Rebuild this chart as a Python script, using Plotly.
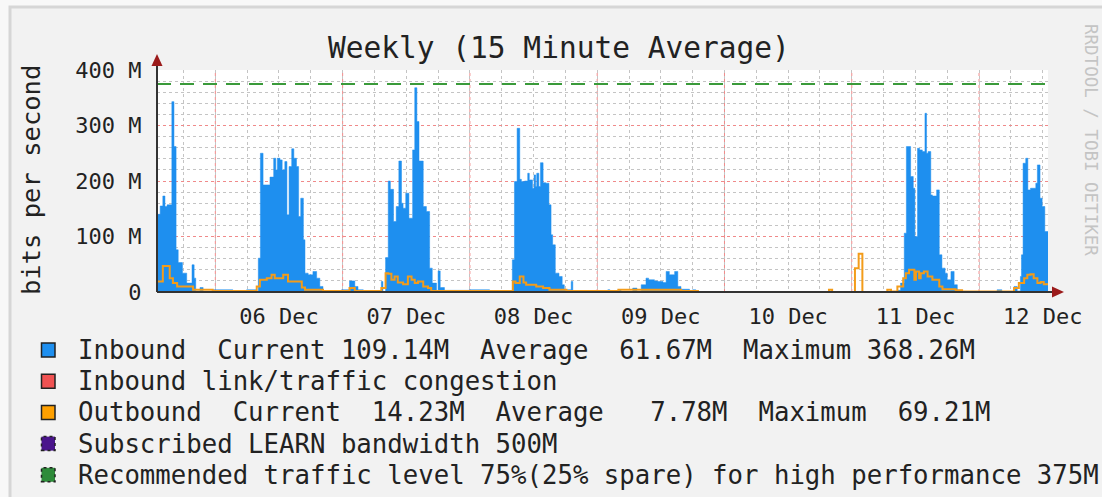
import plotly.graph_objects as go
import pandas as pd

# ---------------- data ----------------
start = pd.Timestamp("2016-12-05 13:00")
span_hours = 168

# Inbound (Mbit/s), step values starting at each hour offset
inbound_hours = [0.0, 0.6, 1.1, 1.5, 1.9, 2.8, 3.2, 3.6, 4.0, 4.8, 5.6, 6.6, 7.0, 7.3, 8.1, 8.7, 10.5, 14.3, 16.9, 18.8,
                 19.1, 19.5, 20.0, 21.3, 22.0, 22.4, 22.7, 23.2, 23.6, 24.1, 24.5, 24.9, 25.4, 25.8, 26.3, 26.7, 27.1,
                 27.6, 27.9, 28.5, 29.4, 30.1, 30.7, 31.3, 34.8, 36.3, 37.3, 37.9, 38.9,
                 42.3, 42.6, 43.1, 43.6, 44.0, 44.6, 45.1, 45.6, 46.1, 46.4, 46.9, 47.5, 48.2, 48.6, 49.0, 49.4, 50.2,
                 50.8, 51.4, 51.9, 52.7, 53.0, 53.4, 54.2, 58.9, 62.7,
                 67.0, 67.4, 67.9, 68.4, 68.7, 69.3, 69.9, 70.2, 70.8, 71.1, 71.4, 71.6, 72.0, 72.3, 72.8, 73.3, 73.9,
                 74.3, 74.6, 75.1, 75.8, 76.4, 76.8, 78.1, 78.4,
                 85.0, 85.4, 86.9, 87.5, 89.7, 90.5, 91.3, 92.2, 92.7, 93.8, 94.4, 95.4, 96.0, 96.6, 97.6, 98.2, 98.8,
                 100.4, 101.0, 101.6,
                 139.6, 140.2, 140.9, 141.3, 142.1, 142.6, 142.9, 143.4, 143.8, 144.3, 144.8, 145.1, 145.4, 145.9,
                 146.2, 147.0, 147.5, 148.0, 148.6, 149.0, 149.7, 150.3, 150.9, 151.8, 153.1,
                 158.4, 159.3,
                 161.6, 162.2, 162.8, 163.0, 163.3, 163.8, 164.2, 164.7, 165.7, 166.0, 166.5, 166.9, 167.4, 168.0]
inbound_mbps = [140, 155, 173, 154, 157, 343, 262, 76, 53, 34, 16, 49, 25, 2, 8, 1, 4, 0, 4, 0,
                61, 250, 193, 207, 241, 220, 241, 238, 220, 235, 139, 226, 258, 241, 226, 136, 169,
                94, 34, 31, 37, 25, 10, 0, 4, 20, 10, 4, 1,
                19, 1, 62, 200, 185, 127, 154, 236, 160, 151, 178, 133, 256, 368, 307, 236, 154,
                145, 43, 16, 2, 38, 8, 3, 4, 0,
                58, 199, 295, 203, 199, 200, 214, 202, 187, 211, 190, 214, 190, 233, 197, 196, 157,
                103, 85, 34, 28, 13, 4, 19, 2,
                4, 0, 4, 0, 7, 2, 13, 25, 22, 20, 19, 17, 37, 31, 37, 10, 5,
                0, 4, 0,
                3, 16, 106, 262, 208, 187, 100, 259, 256, 253, 322, 250, 253, 175,
                173, 184, 67, 43, 34, 22, 37, 13, 3, 1, 0,
                4, 0,
                10, 2, 28, 67, 232, 241, 184, 187, 196, 229, 169, 154, 109, 109]

# Outbound (Mbit/s)
outbound_hours = [0.0, 1.1, 2.4, 3.0, 3.8, 6.8, 10.5, 18.8, 19.4, 20.7, 21.6, 22.2, 23.8, 24.7, 27.3, 27.9, 31.3,
                  36.3, 37.3, 42.3, 43.1, 43.6, 44.2, 44.8, 45.4, 46.4, 47.3, 48.0, 48.6, 49.2, 50.2, 51.1, 51.7,
                  67.1, 67.6, 68.4, 69.1, 69.6, 71.5, 72.8, 74.0, 77.2, 87.0, 98.8, 102.0,
                  126.7, 127.3, 131.6, 132.3, 133.0, 137.7, 138.4,
                  139.6, 140.7, 141.2, 141.8, 142.8, 143.1, 143.7, 144.0, 144.6, 145.3, 146.2, 147.5, 148.1, 150.6,
                  151.8, 161.6, 162.5, 163.5, 164.1, 164.7, 165.3, 166.0, 166.6, 167.2, 168.0]
outbound_mbps = [19, 47, 25, 16, 10, 4, 2, 10, 22, 25, 31, 25, 31, 19, 8, 4, 2,
                 7, 2, 7, 34, 33, 22, 28, 17, 14, 28, 22, 16, 19, 10, 7, 2,
                 19, 16, 28, 17, 13, 10, 7, 4, 2, 4, 2, 0,
                 4, 0, 43, 69, 0, 4, 1,
                 10, 25, 34, 40, 22, 37, 25, 34, 37, 28, 22, 10, 5, 3,
                 1, 7, 16, 25, 31, 32, 25, 16, 18, 14, 14]

subscribed_mbps = 500
recommended_mbps = 375

day_labels = ["06 Dec", "07 Dec", "08 Dec", "09 Dec", "10 Dec", "11 Dec", "12 Dec"]
y_tick_values = [0, 100, 200, 300, 400]
y_tick_labels = ["0", "100 M", "200 M", "300 M", "400 M"]

title_text = "Weekly (15 Minute Average)"
y_title = "bits per second"
watermark = "RRDTOOL / TOBI OETIKER"
legend_rows = [
    ("Inbound  Current 109.14M  Average  61.67M  Maximum 368.26M", "#1e8fef", "solid"),
    ("Inbound link/traffic congestion", "#f05252", "solid"),
    ("Outbound  Current  14.23M  Average   7.78M  Maximum  69.21M", "#ffa000", "solid"),
    ("Subscribed LEARN bandwidth 500M", "#4a148c", "dot"),
    ("Recommended traffic level 75%(25% spare) for high performance 375M", "#2e8b3a", "dot"),
]

# ---------------- geometry helpers (pixel -> paper) ----------------
W, H = 1102, 497
L, R, T, B = 157, 1048, 70, 292


def pxx(x):
    return (x - L) / (R - L)


def pxy(y):
    return (B - y) / (B - T)


def to_time(hours):
    return [start + pd.Timedelta(hours=h) for h in hours]


end = start + pd.Timedelta(hours=span_hours)
FONT = "DejaVu Sans Mono"

fig = go.Figure()

fig.add_trace(go.Scatter(
    x=to_time(inbound_hours), y=inbound_mbps, mode="lines", line=dict(shape="hv", width=0.5, color="#1e8fef"),
    fill="tozeroy", fillcolor="#1e8fef", name="Inbound", showlegend=False, hoverinfo="skip"))
fig.add_trace(go.Scatter(
    x=to_time(outbound_hours), y=outbound_mbps, mode="lines", line=dict(shape="hv", width=2, color="#f39c1a"),
    name="Outbound", showlegend=False, hoverinfo="skip"))
fig.add_trace(go.Scatter(
    x=[start, end], y=[recommended_mbps, recommended_mbps], mode="lines",
    line=dict(color="#3a9a3a", width=2, dash="14px,9px"), showlegend=False, hoverinfo="skip"))
fig.add_trace(go.Scatter(
    x=[start, end], y=[subscribed_mbps, subscribed_mbps], mode="lines",
    line=dict(color="#4a148c", width=2, dash="14px,9px"), showlegend=False, hoverinfo="skip"))

noon_ticks = [pd.Timestamp("2016-12-06 12:00") + pd.Timedelta(days=i) for i in range(len(day_labels))]
midnights = [pd.Timestamp("2016-12-06 00:00") + pd.Timedelta(days=i) for i in range(len(day_labels))]

shapes = []
# frame and plot background
shapes.append(dict(type="rect", xref="paper", yref="paper", x0=pxx(10), x1=pxx(1115), y0=pxy(7), y1=pxy(510),
                   fillcolor="#f2f2f2", line=dict(color="#d6d6d6", width=3), layer="below"))
shapes.append(dict(type="rect", xref="paper", yref="paper", x0=0, x1=1, y0=0, y1=1,
                   fillcolor="white", line=dict(width=0), layer="below"))
# red major grid at midnight
for m in midnights:
    shapes.append(dict(type="line", xref="x", yref="paper", x0=m, x1=m, y0=0, y1=1,
                       line=dict(color="#f08a8a", width=1, dash="dot"), layer="between"))
# axes with arrows
shapes.append(dict(type="line", xref="paper", yref="paper", x0=0, x1=0, y0=0, y1=pxy(60),
                   line=dict(color="#333333", width=2), layer="above"))
shapes.append(dict(type="line", xref="paper", yref="paper", x0=0, x1=pxx(1056), y0=0, y1=0,
                   line=dict(color="#333333", width=2), layer="above"))
shapes.append(dict(type="path", xref="paper", yref="paper",
                   path=f"M {pxx(151.5)},{pxy(66)} L {pxx(162.5)},{pxy(66)} L {pxx(157)},{pxy(54)} Z",
                   fillcolor="#9b1b1b", line=dict(width=0), layer="above"))
shapes.append(dict(type="path", xref="paper", yref="paper",
                   path=f"M {pxx(1052)},{pxy(286.5)} L {pxx(1052)},{pxy(297.5)} L {pxx(1064)},{pxy(292)} Z",
                   fillcolor="#9b1b1b", line=dict(width=0), layer="above"))

annotations = [
    dict(text=title_text, xref="paper", yref="paper", x=pxx(559), y=pxy(48), showarrow=False,
         xanchor="center", yanchor="middle", font=dict(family=FONT, size=29.5, color="#222222")),
    dict(text=y_title, xref="paper", yref="paper", x=pxx(31), y=pxy(180), showarrow=False, textangle=-90,
         xanchor="center", yanchor="middle", font=dict(family=FONT, size=25.5, color="#222222")),
    dict(text=watermark, xref="paper", yref="paper", x=pxx(1091), y=pxy(140), showarrow=False, textangle=90,
         xanchor="center", yanchor="middle", font=dict(family=FONT, size=17.5, color="#c4c4c4")),
]

for i, (txt, col, dash) in enumerate(legend_rows):
    yc = 350 + 31.2 * i
    shapes.append(dict(type="rect", xref="paper", yref="paper", x0=pxx(41.5), x1=pxx(55), y0=pxy(yc + 7),
                       y1=pxy(yc - 7), fillcolor=col, line=dict(color="#222222", width=1.5, dash=dash),
                       layer="above"))
    annotations.append(dict(text=txt.replace(" ", "\u00a0"), xref="paper", yref="paper", x=pxx(75.5), y=pxy(yc),
                            showarrow=False, xanchor="left", yanchor="middle",
                            font=dict(family=FONT, size=25.7, color="#222222")))

fig.update_layout(
    width=W, height=H, autosize=False,
    margin=dict(l=L, r=W - R, t=T, b=H - B, pad=0),
    paper_bgcolor="#f8f8f8", plot_bgcolor="rgba(0,0,0,0)",
    showlegend=False, shapes=shapes, annotations=annotations,
    xaxis=dict(type="date", range=[start, end], tickvals=noon_ticks, ticktext=day_labels, automargin=False,
               showgrid=True, gridcolor="#c4c4c4", griddash="dot", gridwidth=1,
               minor=dict(dtick=6 * 3600 * 1000, tick0="2016-12-06 00:00", showgrid=True,
                          gridcolor="#c4c4c4", griddash="dot", gridwidth=1),
               ticks="outside", ticklen=5, tickcolor="rgba(0,0,0,0)", zeroline=False, showline=False,
               tickfont=dict(family=FONT, size=22, color="#222222"), fixedrange=True),
    yaxis=dict(range=[0, 400], tickvals=y_tick_values, ticktext=y_tick_labels, automargin=False,
               showgrid=True, gridcolor="#f08a8a", griddash="dot", gridwidth=1,
               minor=dict(dtick=20, showgrid=True, gridcolor="#c4c4c4", griddash="dot", gridwidth=1),
               ticks="outside", ticklen=10, tickcolor="rgba(0,0,0,0)", zeroline=False, showline=False,
               tickfont=dict(family=FONT, size=22, color="#222222"), fixedrange=True),
)

fig.write_html("out.html", config={"displayModeBar": False},
               post_script="document.body.style.margin='0px';document.body.style.overflow='hidden';")
